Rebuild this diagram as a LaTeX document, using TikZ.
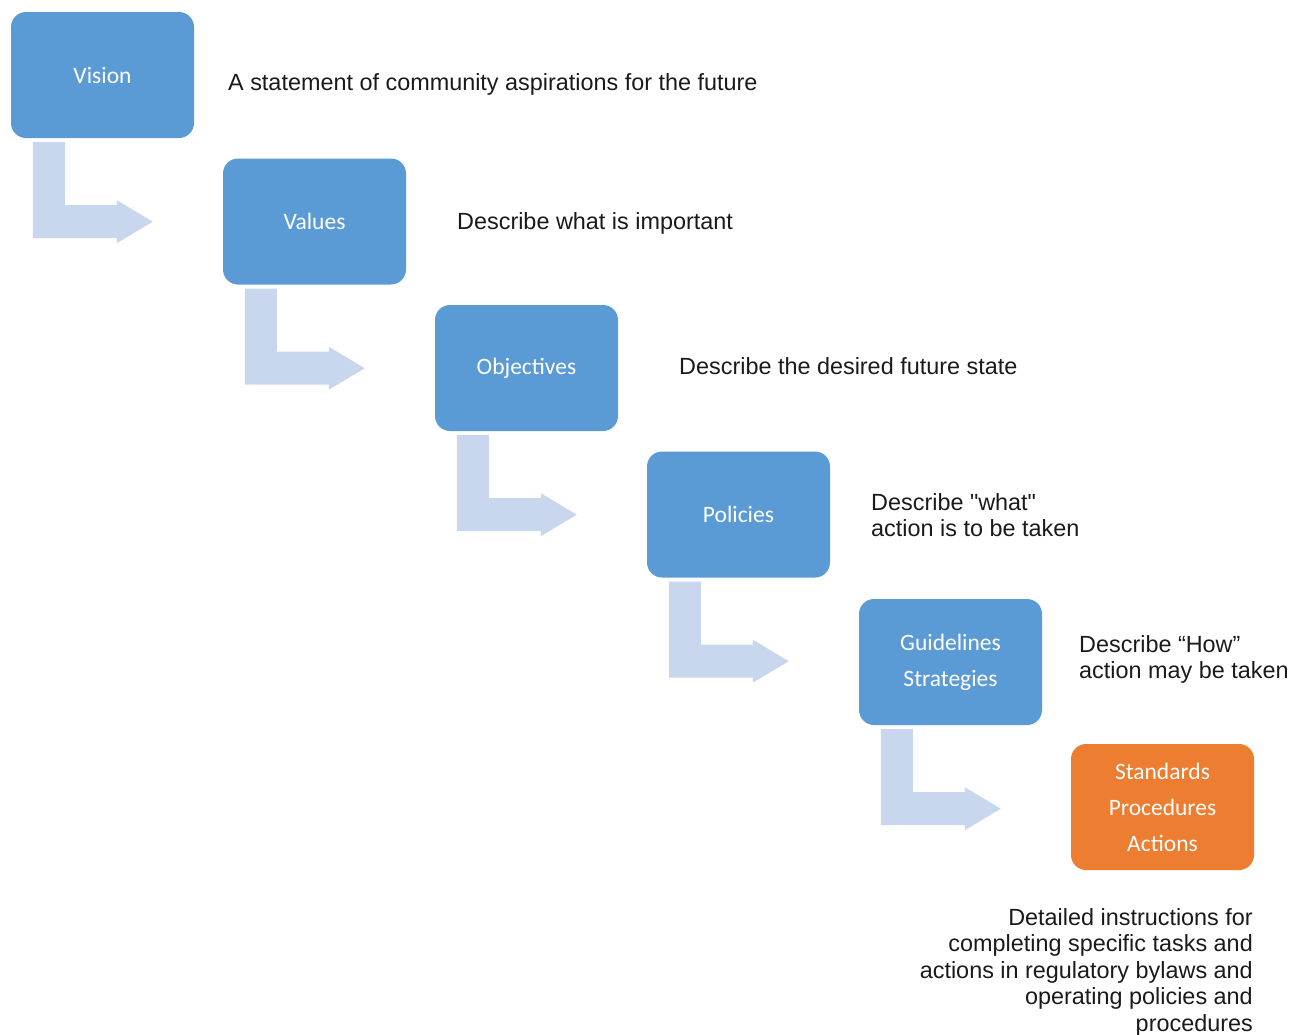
\documentclass[tikz,border=0pt]{standalone}
\usepackage{fontspec}
\setmainfont{Liberation Sans}
\newfontfamily\boxfont{Carlito}
\definecolor{boxblue}{HTML}{5B9BD5}
\definecolor{boxorange}{HTML}{ED7D31}
\definecolor{arrowblue}{HTML}{C8D6EE}
\definecolor{desctext}{HTML}{1A1A1A}
\begin{document}
\begin{tikzpicture}[x=1pt,y=-1pt,
  stage/.style={rectangle, rounded corners=15pt, minimum width=183pt, minimum height=126pt,
    fill=boxblue, text=white, font=\boxfont\fontsize{23.5}{36}\selectfont, align=center, inner sep=0pt},
  finalstage/.style={stage, fill=boxorange},
  desc/.style={anchor=base west, font=\fontsize{23.4}{26.5}\selectfont, align=left, inner sep=0pt, text=desctext},
  bentarrow/.style={fill=arrowblue}]
\useasboundingbox (0,0) rectangle (1300,1034);

\node[stage] (vision) at (102.5,75) {Vision};
\node[stage] (values) at (314.5,221.5) {Values};
\node[stage] (objectives) at (526.5,368) {Objectives};
\node[stage] (policies) at (738.5,514.5) {Policies};
\node[stage] (guidelines) at (950.5,662) {Guidelines\\Strategies};
\node[finalstage] (standards) at (1162.5,807) {Standards\\Procedures\\Actions};

\foreach \a in {vision,values,objectives,policies,guidelines}{
  \fill[bentarrow] ([shift={(22,4)}]\a.south west) -- ++(32,0) -- ++(0,63) -- ++(52,0)
    -- ++(0,-5) -- ++(36,21.5) -- ++(-36,21.5) -- ++(0,-5) -- ++(-84,0) -- cycle;
}

\node[desc] (d1) at (228,90) {A statement of community aspirations for the future};
\node[desc] (d2) at (457,229) {Describe what is important};
\node[desc] (d3) at (679,374) {Describe the desired future state};
\node[desc, anchor=north west] (d4) at (871,493) {Describe \textquotedbl what\textquotedbl\\action is to be taken};
\node[desc, anchor=north west] (d5) at (1079,635) {Describe “How”\\action may be taken};
\node[desc, anchor=north east, align=right] (d6) at (1253,908) {Detailed instructions for\\completing specific tasks and\\actions in regulatory bylaws and\\operating policies and\\procedures};
\end{tikzpicture}
\end{document}
